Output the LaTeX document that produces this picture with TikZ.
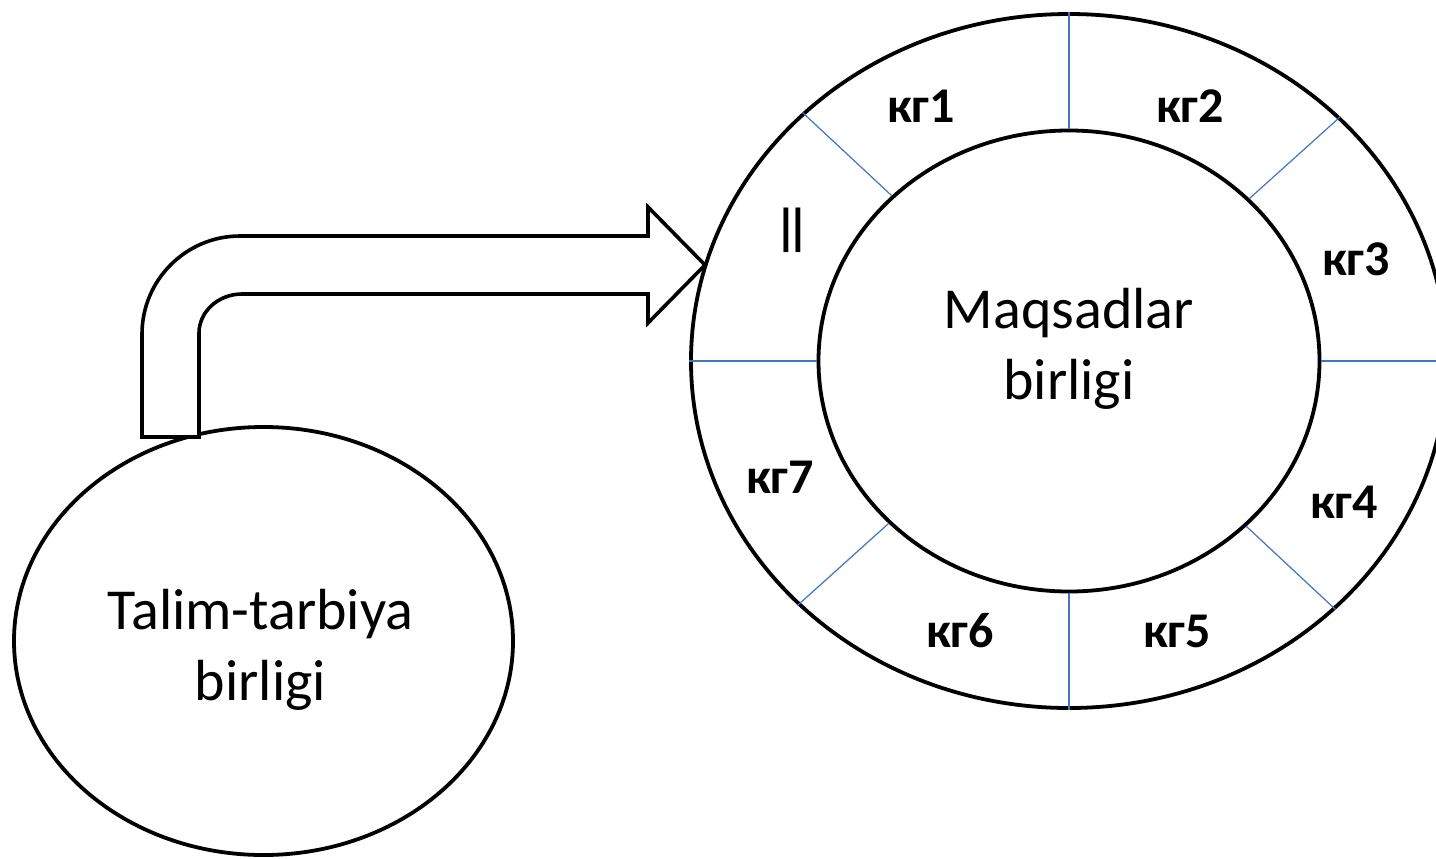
\documentclass[tikz,border=0pt]{standalone}
\usepackage{fontspec}
\setmainfont{Carlito}
\usetikzlibrary{shapes.geometric}
\definecolor{rayblue}{HTML}{4472C4}
\tikzset{
  ring/.style={draw=black, line width=3.8bp, ellipse, inner sep=0pt},
  ray/.style={draw=rayblue, line width=1.2bp},
  maintext/.style={align=center, inner sep=0pt, font=\fontsize{58bp}{71bp}\selectfont},
  seglabel/.style={anchor=base, inner sep=0pt, font=\bfseries\fontsize{50bp}{60bp}\selectfont},
  blockarrow/.style={draw=black, fill=white, line width=3.6bp}
}
\begin{document}
\begin{tikzpicture}[x=1bp, y=-1bp]
\useasboundingbox (0,0) rectangle (1436,858);
\clip (0,0) rectangle (1436,858);
\fill[white] (0,0) rectangle (1436,858);
% left ellipse
\node[ring, minimum width=499bp, minimum height=428bp] (talim) at (263.5,641) {};
\node[maintext] (talimtxt) at (260.5,649.5) {Talim-tarbiya\\birligi};
% right rings
\node[ring, minimum width=756bp, minimum height=694bp] (outer) at (1069,361) {};
\node[ring, minimum width=501bp, minimum height=461bp] (inner) at (1069,361) {};
\node[maintext] (maqtxt) at (1069,348.5) {Maqsadlar\\birligi};
% radial separators
\draw[ray] (outer.north) -- (inner.north);
\draw[ray] (outer.south) -- (inner.south);
\draw[ray] (outer.west) -- (inner.west);
\draw[ray] (outer.east) -- (inner.east);
\draw[ray] (outer.137.5) -- (inner.137.5);
\draw[ray] (outer.42.5) -- (inner.42.5);
\draw[ray] (outer.222.5) -- (inner.222.5);
\draw[ray] (outer.317.5) -- (inner.317.5);
% labels
\node[seglabel] (k1) at (921,122) {кг1};
\node[seglabel] (k2) at (1190,122) {кг2};
\node[seglabel] (k3) at (1356,275) {кг3};
\node[seglabel] (k4) at (1344,518) {кг4};
\node[seglabel] (k5) at (1177,647) {кг5};
\node[seglabel] (k6) at (960,647) {кг6};
\node[seglabel] (k7) at (780,493) {кг7};
\node[seglabel, anchor=center] (bars) at (792.5,230.5) {|\kern-0.24em|};
% bent block arrow
\draw[blockarrow] (142,437) -- (142,334) .. controls (142,280) and (186,236) .. (240,236)
  -- (648,236) -- (648,207) -- (705,265) -- (648,323) -- (648,294) -- (242,294)
  .. controls (218,294) and (199,312) .. (199,333) -- (199,437) -- cycle;
\end{tikzpicture}
\end{document}
